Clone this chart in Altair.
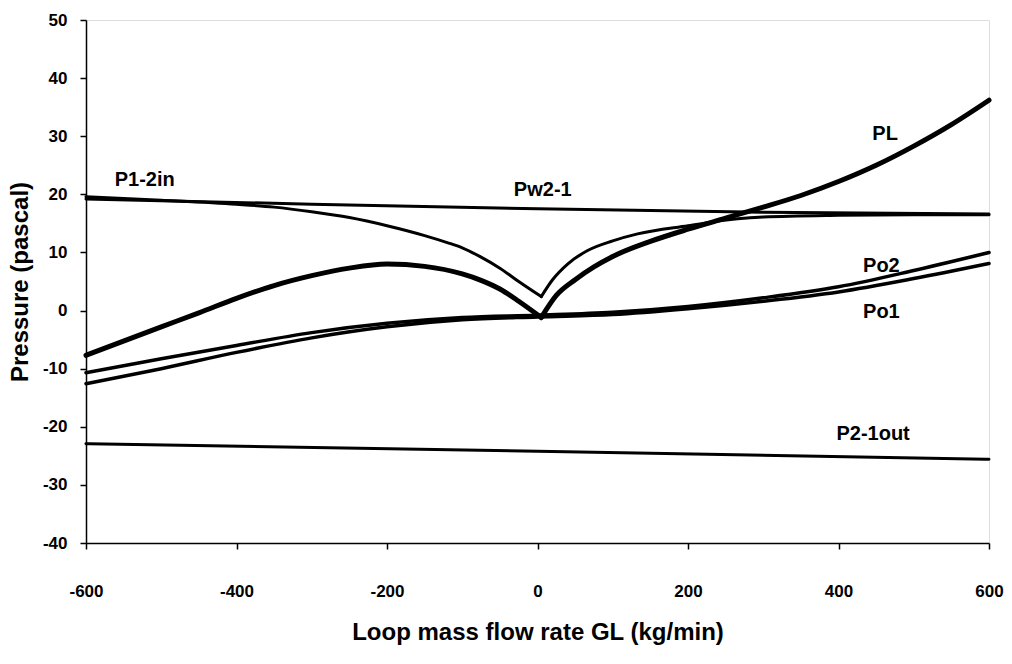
import altair as alt
import pandas as pd

# ---- data ----
pw_x = [-600, -300, 0, 300, 600]
pw_y = [19.2, 18.3, 17.5, 16.9, 16.6]

# P1-2in: left branch and right branch meet at the sharp minimum
p12_left_x = [-600, -500, -400, -350, -300, -250, -200, -150, -120, -100, -75, -50, -25, 5]
p12_left_y = [19.6, 19.0, 18.3, 17.8, 17.0, 16.0, 14.6, 12.9, 11.7, 10.8, 9.2, 7.3, 5.0, 2.4]
p12_right_x = [5, 20, 40, 66, 100, 133, 200, 266, 300, 400, 500, 600]
p12_right_y = [2.4, 5.3, 8.0, 10.3, 12.0, 13.2, 14.6, 15.8, 16.1, 16.4, 16.5, 16.5]

# PL: left branch and right branch meet at the sharp minimum
pl_left_x = [-600, -500, -450, -400, -350, -300, -250, -200, -150, -100, -75, -50, -25, 5]
pl_left_y = [-7.7, -2.8, -0.4, 2.1, 4.3, 6.0, 7.3, 8.0, 7.6, 6.3, 5.2, 3.7, 1.6, -1.2]
pl_right_x = [5, 25, 50, 75, 100, 150, 200, 250, 300, 350, 400, 450, 500, 550, 600]
pl_right_y = [-1.2, 2.6, 5.3, 7.5, 9.3, 11.9, 14.0, 15.9, 17.8, 19.8, 22.2, 25.0, 28.3, 32.0, 36.2]

po2_x = [-600, -500, -400, -300, -200, -100, 0, 100, 200, 300, 400, 500, 600]
po2_y = [-10.7, -8.3, -6.0, -3.8, -2.2, -1.2, -0.8, -0.3, 0.7, 2.2, 4.1, 6.9, 10.0]

po1_x = [-600, -500, -400, -300, -200, -100, 0, 100, 200, 300, 400, 500, 600]
po1_y = [-12.6, -10.0, -7.2, -4.7, -2.8, -1.6, -1.1, -0.7, 0.3, 1.6, 3.2, 5.5, 8.1]

p21_x = [-600, 0, 600]
p21_y = [-22.9, -24.2, -25.6]

label_text = ["P1-2in", "Pw2-1", "PL", "Po2", "Po1", "P2-1out"]
label_x = [-522, 7, 462, 457, 457, 446]
label_y = [22.4, 20.8, 30.3, 7.7, -0.3, -21.2]

x_ticks = [-600, -400, -200, 0, 200, 400, 600]
y_ticks = [-40, -30, -20, -10, 0, 10, 20, 30, 40, 50]

# ---- styling (kept separate from data) ----
series = [
    (pw_x, pw_y, 3),
    (p12_left_x, p12_left_y, 3),
    (p12_right_x, p12_right_y, 3),
    (pl_left_x, pl_left_y, 5),
    (pl_right_x, pl_right_y, 5),
    (po2_x, po2_y, 3.5),
    (po1_x, po1_y, 3.5),
    (p21_x, p21_y, 3),
]

FONT = "Liberation Sans"
W, H = 903, 523
MINUS = "datum.value < 0 ? '-' + abs(datum.value) : '' + datum.value"

xs = alt.Scale(domain=[-600, 600], nice=False, zero=False)
ys = alt.Scale(domain=[-40, 50], nice=False, zero=False)

x_axis = alt.Axis(values=x_ticks, title="Loop mass flow rate GL (kg/min)", grid=False,
                  labelExpr=MINUS, labelFlush=False, labelOverlap=False,
                  labelFont=FONT, labelFontSize=17, labelFontWeight="bold", labelColor="black",
                  labelPadding=34, tickSize=6, tickColor="black", domainColor="black",
                  domainWidth=1.5, tickWidth=1.5,
                  titleFont=FONT, titleFontSize=24, titleFontWeight="bold", titleColor="black",
                  titlePadding=21)
y_axis = alt.Axis(values=y_ticks, title="Pressure (pascal)", grid=False,
                  labelExpr=MINUS, labelFlush=False, labelOverlap=False,
                  labelFont=FONT, labelFontSize=17, labelFontWeight="bold", labelColor="black",
                  labelPadding=13, tickSize=6, tickColor="black", domainColor="black",
                  domainWidth=1.5, tickWidth=1.5,
                  titleFont=FONT, titleFontSize=24, titleFontWeight="bold", titleColor="black",
                  titlePadding=10)

enc_x = alt.X("x:Q", scale=xs, axis=x_axis)
enc_y = alt.Y("y:Q", scale=ys, axis=y_axis)

layers = []
for xv, yv, sw in series:
    df = pd.DataFrame({"x": xv, "y": yv})
    layers.append(
        alt.Chart(df).mark_line(color="black", strokeWidth=sw, interpolate="monotone",
                                strokeCap="round", strokeJoin="round")
        .encode(x=enc_x, y=enc_y)
    )

lab_df = pd.DataFrame({"t": label_text, "x": label_x, "y": label_y})
labels = alt.Chart(lab_df).mark_text(font=FONT, fontSize=20, fontWeight="bold", color="black",
                                     align="center", baseline="middle").encode(
    x=enc_x, y=enc_y, text="t:N")
layers.append(labels)

chart = alt.layer(*layers).properties(
    width=W, height=H,
    autosize=alt.AutoSizeParams(type="none"),
    padding={"left": 86, "top": 20, "right": 23, "bottom": 121},
).configure_view(strokeWidth=0).configure(background="white")

chart.save("out.html", embed_options={"renderer": "svg", "actions": False})
